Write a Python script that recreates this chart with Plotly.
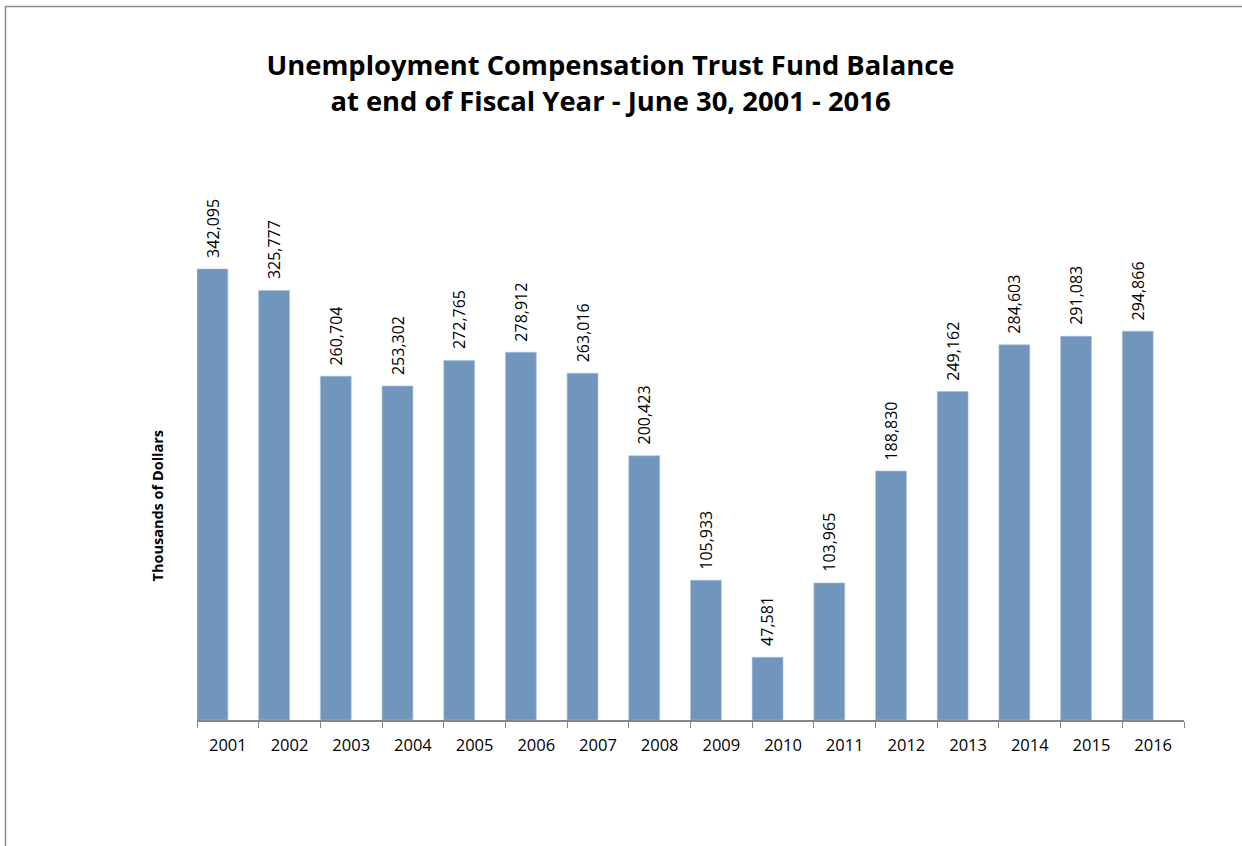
import plotly.graph_objects as go

years = ["2001", "2002", "2003", "2004", "2005", "2006", "2007", "2008",
         "2009", "2010", "2011", "2012", "2013", "2014", "2015", "2016"]
balances = [342095, 325777, 260704, 253302, 272765, 278912, 263016, 200423,
            105933, 47581, 103965, 188830, 249162, 284603, 291083, 294866]

W, H = 1242, 846
ML, MR, MT, MB = 197, 58, 190, 126
PW, PH = W - ML - MR, H - MT - MB

fig = go.Figure()
fig.add_trace(go.Bar(
    x=years, y=balances,
    marker=dict(color="#7096BE", line=dict(color="#A9C0DA", width=0.6)),
    width=0.5, offset=-0.5,
    hoverinfo="skip",
))

annotations = [dict(
    x=i - 0.25, y=v, xref="x", yref="y",
    text=f"{v:,}", textangle=-90,
    xanchor="center", yanchor="bottom",
    yshift=9,
    showarrow=False,
    font=dict(family="Open Sans", size=16, color="#000000"),
) for i, v in enumerate(balances)]

annotations.append(dict(
    text="<b>Thousands of Dollars</b>", textangle=-90,
    xref="paper", yref="paper",
    x=(157 - ML) / PW, y=(720 - 505.5) / PH,
    xanchor="center", yanchor="middle", showarrow=False,
    font=dict(family="Open Sans", size=14.5, color="#000000"),
))

fig.update_layout(
    width=W, height=H,
    margin=dict(l=ML, r=MR, t=MT, b=MB, autoexpand=False),
    paper_bgcolor="white", plot_bgcolor="white",
    showlegend=False,
    font=dict(family="Open Sans", color="#000000"),
    title=dict(
        text="Unemployment Compensation Trust Fund Balance<br>at end of Fiscal Year - June 30, 2001 - 2016",
        x=610.5 / W, xref="container", xanchor="center",
        y=1 - 75 / H, yref="container", yanchor="middle",
        font=dict(family="Open Sans", size=27.4, color="#000000", weight="bold"),
    ),
    xaxis=dict(
        type="category", categoryorder="array", categoryarray=years,
        range=[-0.5, len(years) - 0.5], autorange=False,
        showline=True, linecolor="#868686", linewidth=1.5,
        ticks="outside", tickson="boundaries", ticklen=6, tickcolor="#868686", tickwidth=1.2,
        ticklabelstandoff=9,
        tickfont=dict(family="Open Sans", size=16.5, color="#000000"),
        showgrid=False, zeroline=False,
    ),
    yaxis=dict(
        range=[0, 342095 * PH / 451], autorange=False,
        visible=False, showgrid=False, zeroline=False,
    ),
    annotations=annotations,
    shapes=[dict(
        type="rect", xref="paper", yref="paper",
        x0=(5.5 - ML) / PW, x1=(1260 - ML) / PW,
        y0=(720 - 870) / PH, y1=(720 - 6.5) / PH,
        line=dict(color="#8C8C8C", width=1.5), fillcolor="rgba(0,0,0,0)",
        layer="below",
    )],
)

fig.write_html("out.html")
